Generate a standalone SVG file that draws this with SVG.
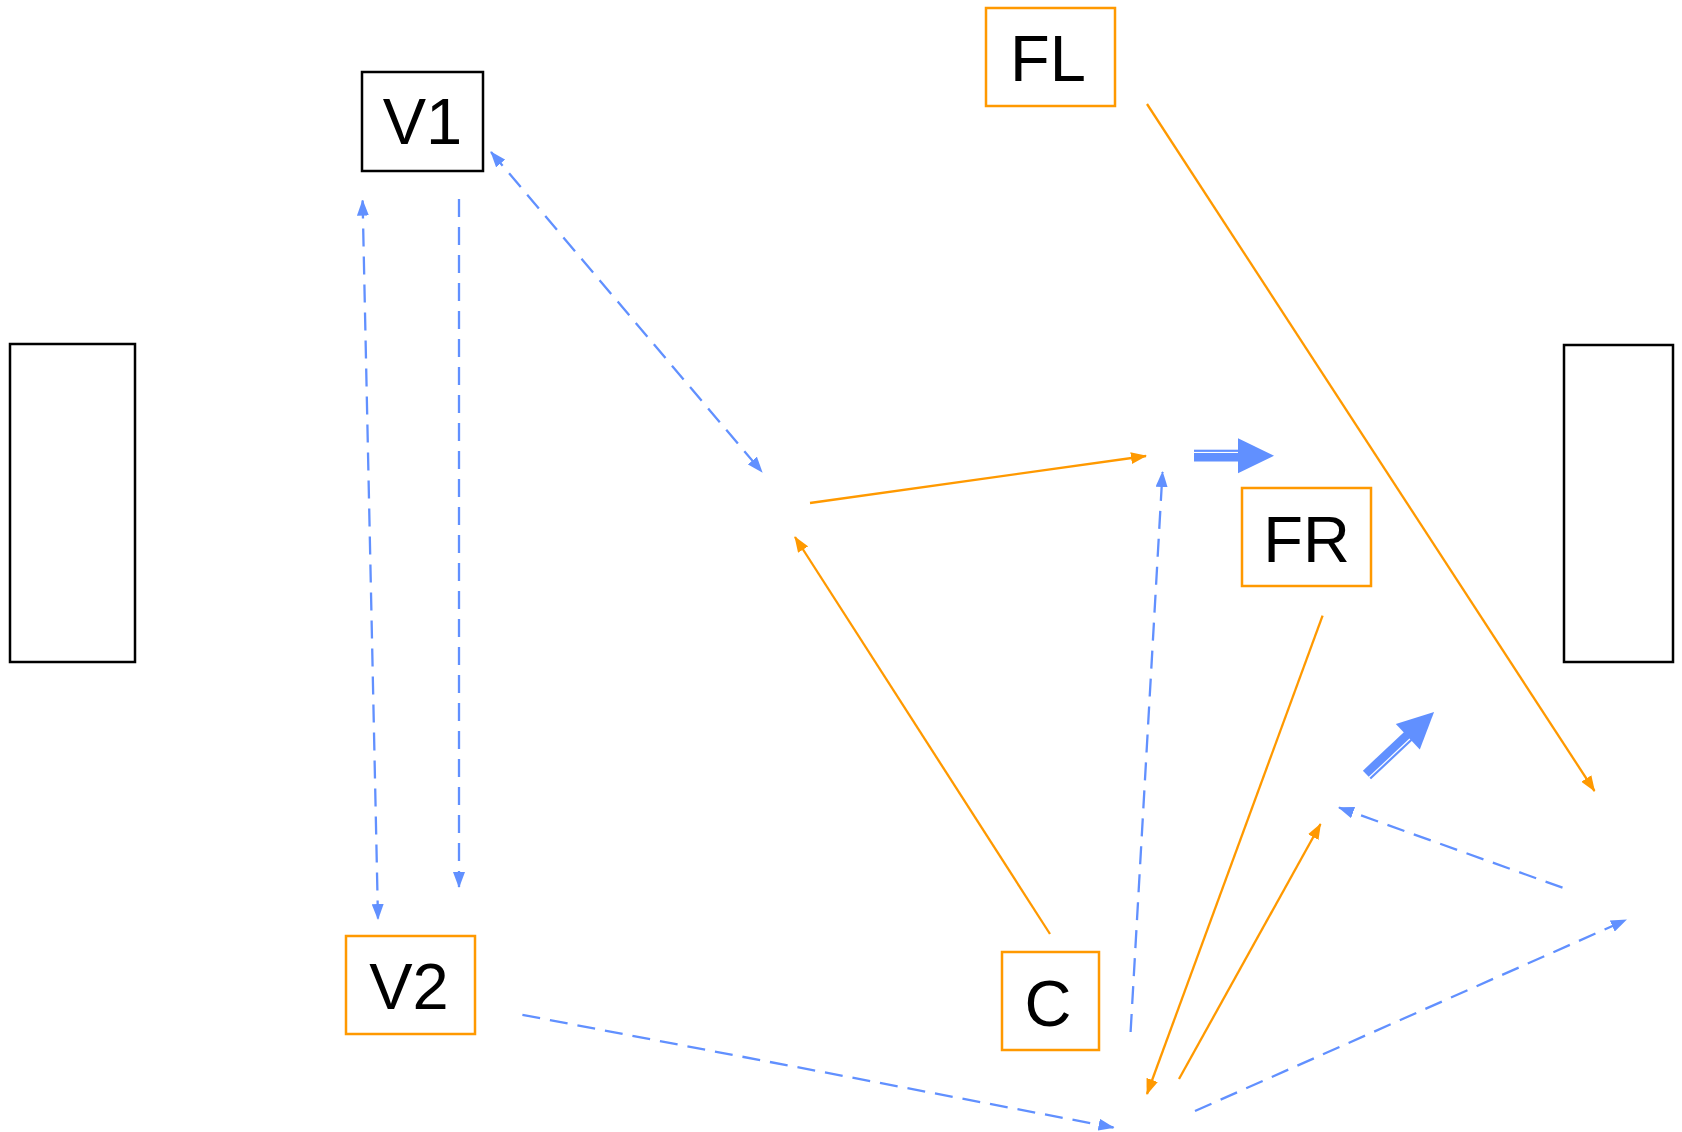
<svg xmlns="http://www.w3.org/2000/svg" width="1682" height="1132" viewBox="0 0 1682 1132">
<style>
.box{fill:#fff;stroke-width:2.5}
.blk{stroke:#000}
.org{stroke:#ff9900}
.lbl{font-family:"Liberation Sans",Arial,sans-serif;font-size:65px;fill:#000;text-anchor:middle}
.bd{stroke:#6190ff;stroke-width:2.3;fill:none;stroke-dasharray:18 10}
.os{stroke:#ff9900;stroke-width:2.3;fill:none}
.fat{fill:#6190ff}
</style>
<defs>
<marker id="ab" markerUnits="userSpaceOnUse" markerWidth="16" markerHeight="12" refX="15" refY="6" orient="auto-start-reverse"><path d="M0,0 L16,6 L0,12 z" fill="#6190ff"/></marker>
<marker id="ao" markerUnits="userSpaceOnUse" markerWidth="16" markerHeight="12" refX="15" refY="6" orient="auto-start-reverse"><path d="M0,0 L16,6 L0,12 z" fill="#ff9900"/></marker>
</defs>
<g id="nodes">
<g id="left"><rect class="box blk" x="10" y="344" width="125" height="318"/></g>
<g id="right"><rect class="box blk" x="1564" y="345" width="109" height="317"/></g>
<g id="V1"><rect class="box blk" x="362" y="72" width="121" height="99"/><text class="lbl" x="422.5" y="144">V1</text></g>
<g id="FL"><rect class="box org" x="986" y="8" width="129" height="98"/><text class="lbl" x="1048" y="81">FL</text></g>
<g id="FR"><rect class="box org" x="1242" y="488" width="129" height="98"/><text class="lbl" x="1306.5" y="562">FR</text></g>
<g id="V2"><rect class="box org" x="346" y="936" width="129" height="98"/><text class="lbl" x="409" y="1009">V2</text></g>
<g id="C"><rect class="box org" x="1002" y="952" width="97" height="98"/><text class="lbl" x="1048" y="1026">C</text></g>
</g>
<g id="connectors">
<line class="bd" x1="362.6" y1="200.6" x2="378" y2="919" marker-start="url(#ab)" marker-end="url(#ab)"/>
<line class="bd" x1="459" y1="199" x2="459" y2="887" marker-end="url(#ab)"/>
<line class="bd" x1="491" y1="152" x2="762" y2="472" marker-start="url(#ab)" marker-end="url(#ab)"/>
<line class="os" x1="810" y1="503" x2="1146" y2="456" marker-end="url(#ao)"/>
<line class="os" x1="1050" y1="934" x2="795" y2="537" marker-end="url(#ao)"/>
<line class="bd" x1="1130.6" y1="1032" x2="1162.5" y2="472" marker-end="url(#ab)"/>
<line class="os" x1="1147" y1="104" x2="1594.5" y2="791" marker-end="url(#ao)"/>
<line class="os" x1="1322.6" y1="615.7" x2="1147" y2="1094" marker-end="url(#ao)"/>
<line class="os" x1="1179" y1="1079" x2="1320.5" y2="824" marker-end="url(#ao)"/>
<line class="bd" x1="1562.5" y1="887.7" x2="1339" y2="807.5" marker-end="url(#ab)"/>
<line class="bd" x1="522.4" y1="1014.8" x2="1113.5" y2="1127.5" marker-end="url(#ab)"/>
<line class="bd" x1="1195" y1="1111" x2="1626" y2="920" marker-end="url(#ab)"/>
<g transform="translate(1194,455.7)">
<rect class="fat" x="0" y="-6" width="46" height="2.2"/>
<rect class="fat" x="0" y="-2.7" width="46" height="8.5"/>
<path class="fat" d="M44,-17.5 L80,0 L44,17.5 z"/>
</g>
<g transform="translate(1367,775) rotate(-43.2)">
<rect class="fat" x="0" y="-6" width="58" height="8.5"/>
<rect class="fat" x="0" y="3.7" width="58" height="2.2"/>
<path class="fat" d="M56,-17.5 L92,0 L56,17.5 z"/>
</g>
</g>
</svg>
